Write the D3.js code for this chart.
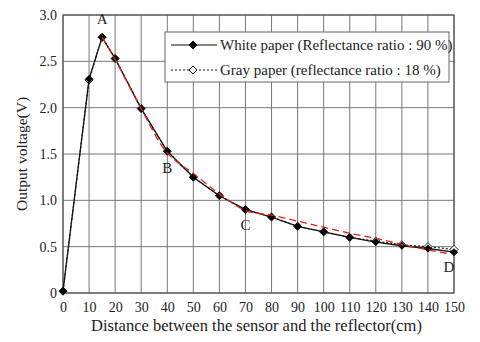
<!DOCTYPE html>
<html>
<head>
<meta charset="utf-8">
<script src="https://cdn.jsdelivr.net/npm/d3@7.9.0/dist/d3.min.js"></script>
<style>
  body { margin: 0; background: #fff; }
  svg text { font-family: "Liberation Serif", "DejaVu Serif", serif; fill: #222; }
</style>
</head>
<body>
<svg width="480" height="342"></svg>
<script>
// distances (cm)
const distance = [0, 10, 15, 20, 30, 40, 50, 60, 70, 80, 90, 100, 110, 120, 130, 140, 150];
const whitePaper = [0.02, 2.31, 2.76, 2.53, 1.99, 1.53, 1.25, 1.05, 0.90, 0.82, 0.72, 0.66, 0.60, 0.55, 0.51, 0.48, 0.44];
const grayPaper = [0.02, 2.30, 2.76, 2.53, 1.99, 1.53, 1.25, 1.05, 0.90, 0.82, 0.72, 0.66, 0.60, 0.56, 0.52, 0.50, 0.47];
// red dashed fitted curve A -> D
const fitX = [15, 20, 30, 40, 50, 60, 70, 80, 90, 100, 110, 120, 130, 140, 148];
const fitY = [2.76, 2.52, 1.99, 1.51, 1.29, 1.07, 0.89, 0.84, 0.775, 0.71, 0.645, 0.59, 0.525, 0.465, 0.425];
const xTicks = d3.range(0, 151, 10);
const yTicks = [0, 0.5, 1.0, 1.5, 2.0, 2.5, 3.0];
const pointLabels = [
  { t: "A", x: 15, y: 2.76, dy: -13 },
  { t: "B", x: 40, y: 1.53, dy: 22 },
  { t: "C", x: 70, y: 0.90, dy: 20 },
  { t: "D", x: 150, y: 0.44, dy: 20, dx: -5 }
];
const legendItems = [
  { name: "White paper (Reflectance ratio : 90 %)", dash: null, fill: "#000" },
  { name: "Gray paper (reflectance ratio : 18 %)", dash: "2,2", fill: "#fff" }
];

const svg = d3.select("svg");
const m = { l: 63, r: 26, t: 15, b: 49 };
const W = 480, H = 342;
const x = d3.scaleLinear().domain([0, 150]).range([m.l, W - m.r]);
const y = d3.scaleLinear().domain([0, 3]).range([H - m.b, m.t]);

// grid
svg.append("g").selectAll("line").data(xTicks).join("line")
  .attr("x1", d => x(d)).attr("x2", d => x(d))
  .attr("y1", y(0)).attr("y2", y(3))
  .attr("stroke", "#777").attr("stroke-width", 1);
svg.append("g").selectAll("line").data(yTicks).join("line")
  .attr("x1", x(0)).attr("x2", x(150))
  .attr("y1", d => y(d)).attr("y2", d => y(d))
  .attr("stroke", "#777").attr("stroke-width", 1);
svg.append("rect").attr("x", x(0)).attr("y", y(3))
  .attr("width", x(150) - x(0)).attr("height", y(0) - y(3))
  .attr("fill", "none").attr("stroke", "#555").attr("stroke-width", 1.2);

// axes
const xAxis = svg.append("g").attr("transform", `translate(0,${y(0)})`)
  .call(d3.axisBottom(x).tickValues(xTicks).tickSize(0).tickPadding(9));
const yAxis = svg.append("g").attr("transform", `translate(${x(0)},0)`)
  .call(d3.axisLeft(y).tickValues(yTicks).tickSize(0).tickPadding(6)
    .tickFormat(d => d === 0 ? "0" : d3.format(".1f")(d)));
[xAxis, yAxis].forEach(a => {
  a.select(".domain").remove();
  a.selectAll("text").attr("font-size", 14).attr("fill", "#222")
    .attr("font-family", "Liberation Serif, serif");
});

svg.append("text").attr("x", (x(0) + x(150)) / 2 - 2).attr("y", 331)
  .attr("text-anchor", "middle").attr("font-size", 16.5)
  .text("Distance between the sensor and the reflector(cm)");
svg.append("text").attr("transform", `translate(27,${(y(0) + y(3)) / 2}) rotate(-90)`)
  .attr("text-anchor", "middle").attr("font-size", 15.5)
  .text("Output voltage(V)");

const line = d3.line().x(d => x(d[0])).y(d => y(d[1]));
const diamond = d3.symbol().type(d3.symbolDiamond2).size(42);

// gray series
const grayData = distance.map((d, i) => [d, grayPaper[i]]);
svg.append("path").datum(grayData).attr("d", line)
  .attr("fill", "none").attr("stroke", "#222").attr("stroke-width", 1.2)
  .attr("stroke-dasharray", "2,2");
svg.append("g").selectAll("path").data(grayData).join("path")
  .attr("d", diamond).attr("transform", d => `translate(${x(d[0])},${y(d[1])})`)
  .attr("fill", "#fff").attr("stroke", "#222").attr("stroke-width", 1);

// white series
const whiteData = distance.map((d, i) => [d, whitePaper[i]]);
svg.append("path").datum(whiteData).attr("d", line)
  .attr("fill", "none").attr("stroke", "#111").attr("stroke-width", 1.3);
svg.append("g").selectAll("path").data(whiteData).join("path")
  .attr("d", diamond).attr("transform", d => `translate(${x(d[0])},${y(d[1])})`)
  .attr("fill", "#000");

// red fit curve
const fitData = fitX.map((d, i) => [d, fitY[i]]);
svg.append("path").datum(fitData).attr("d", line.curve(d3.curveCatmullRom))
  .attr("fill", "none").attr("stroke", "#e8201c").attr("stroke-width", 1.3)
  .attr("stroke-dasharray", "7,4");

// point labels
svg.append("g").selectAll("text").data(pointLabels).join("text")
  .attr("x", d => x(d.x) + (d.dx || 0)).attr("y", d => y(d.y) + d.dy)
  .attr("text-anchor", "middle").attr("font-size", 15)
  .text(d => d.t);

// legend
const lg = svg.append("g");
lg.append("rect").attr("x", 165).attr("y", 32).attr("width", 284).attr("height", 50)
  .attr("fill", "#fff").attr("stroke", "#666").attr("stroke-width", 1);
legendItems.forEach((it, i) => {
  const ly = 45 + i * 25;
  lg.append("line").attr("x1", 171).attr("x2", 217).attr("y1", ly).attr("y2", ly)
    .attr("stroke", "#111").attr("stroke-width", 1.2)
    .attr("stroke-dasharray", it.dash);
  lg.append("path").attr("d", diamond).attr("transform", `translate(193,${ly})`)
    .attr("fill", it.fill).attr("stroke", "#111");
  lg.append("text").attr("x", 220).attr("y", ly + 5).attr("font-size", 15)
    .text(it.name);
});
</script>
</body>
</html>
